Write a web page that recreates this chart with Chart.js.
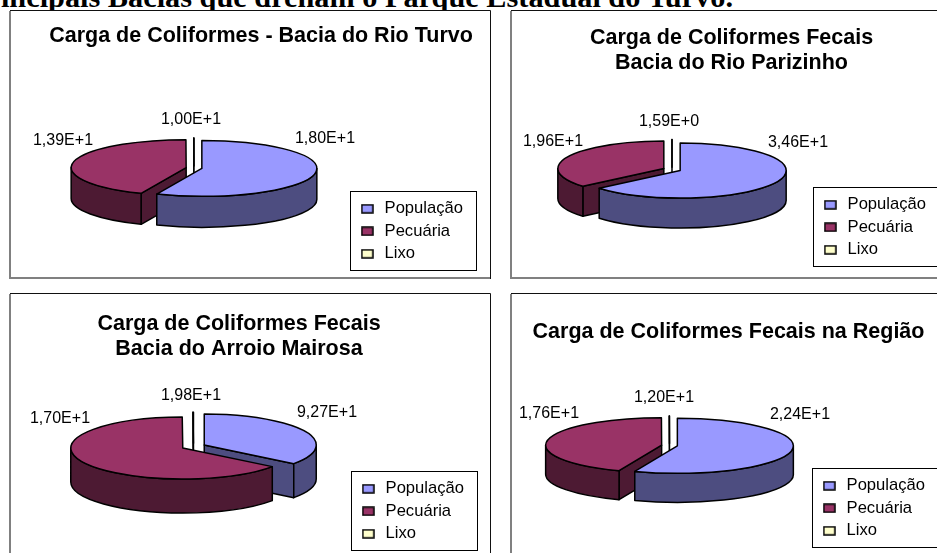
<!DOCTYPE html>
<html lang="pt-BR">
<head>
<meta charset="utf-8">
<title>Carga de Coliformes</title>
<script src="https://cdn.jsdelivr.net/npm/chart.js@4/dist/chart.umd.min.js"></script>
<style>
    html, body { margin: 0; padding: 0; width: 937px; height: 553px; overflow: hidden; background: #fff; }
    canvas { position: absolute; }
    #cabecalho {
        position: absolute; right: 204px; top: -20px;
        font: bold 30.3px "Liberation Serif", serif; white-space: nowrap; color: #000;
    }
</style>
</head>
<body>
<div id="cabecalho">Principais Bacias que drenam o Parque Estadual do Turvo.</div>
<canvas id="turvo" width="482" height="269" style="left:9px;top:10px"></canvas>
<canvas id="parizinho" width="482" height="269" style="left:510px;top:10px"></canvas>
<canvas id="mairosa" width="482" height="269" style="left:9px;top:293px"></canvas>
<canvas id="regiao" width="482" height="269" style="left:510px;top:293px"></canvas>
<script>
/* -----------------------------
   DADOS
----------------------------- */
const categorias = ["População", "Pecuária", "Lixo"];
const cargaTurvo = [1.80e13, 1.39e13, 1.00e10];
const cargaParizinho = [3.46e13, 1.96e13, 1.59e9];
const cargaMairosa = [9.27e12, 1.70e13, 1.98e10];
const cargaRegiao = [2.24e13, 1.76e13, 1.20e10];

const coresTopo = ["#9999FF", "#993366", "#FFFFCC"];
const coresParede = ["#4D4D80", "#4D1A33", "#808066"];

const paineis = [
    {
        id: "turvo", titulo: "Carga de Coliformes - Bacia do Rio Turvo", valores: cargaTurvo,
        padding: { left: 40, right: 18, top: 14, bottom: 11 },
        pizza: { x: 185, y: 158, raio: 115, achatar: 0.243, altura: 31, explosao: 8 },
        rotulos: [[131, -29], [-131, -27], [-3, -48]]
    },
    {
        id: "parizinho", titulo: ["Carga de Coliformes Fecais", "Bacia do Rio Parizinho"], valores: cargaParizinho,
        padding: { left: 17, right: 56, top: 16, bottom: 15 },
        pizza: { x: 162, y: 159.5, raio: 106, achatar: 0.26, altura: 30, explosao: 9 },
        rotulos: [[126, -26.5], [-119, -27.5], [-3, -47.5]]
    },
    {
        id: "mairosa", titulo: ["Carga de Coliformes Fecais", "Bacia do Arroio Mairosa"], valores: cargaMairosa,
        padding: { left: -5, right: 17, top: 19, bottom: 14 },
        pizza: { x: 184.5, y: 153.5, raio: 112, achatar: 0.277, altura: 34, explosao: 12 },
        rotulos: [[133.5, -33.5], [-133.5, -27.5], [-2.5, -50.5]]
    },
    {
        id: "regiao", titulo: "Carga de Coliformes Fecais na Região", valores: cargaRegiao,
        padding: { left: 12, right: 57, top: 27, bottom: 17 },
        pizza: { x: 159.5, y: 152.5, raio: 116, achatar: 0.237, altura: 29, explosao: 8 },
        rotulos: [[130.5, -30.5], [-120.5, -31.5], [-5.5, -47.5]]
    }
];

const fonte = "Liberation Sans";

// O rotulo so tem lugar para 7 caracteres, o expoente perde o ultimo digito
function rotuloCarga(valor) {
    const [mantissa, expoente] = valor.toExponential(2).split("e");
    const exp = expoente.replace("+", "").padStart(2, "0");
    return `${mantissa.replace(".", ",")}E+${exp}`.slice(0, 7);
}

function amostraLegenda(cor) {
    const c = document.createElement("canvas");
    c.width = 13;
    c.height = 10;
    const g = c.getContext("2d");
    g.fillStyle = cor;
    g.fillRect(1, 1, 11, 8);
    g.strokeStyle = "#000";
    g.lineWidth = 1.5;
    g.strokeRect(1, 1, 11, 8);
    return c;
}

/* -----------------------------
   PIZZA 3D
   Os angulos vem dos arcos calculados pelo controller
----------------------------- */
function desenharFatia(ctx, arc, i, pizza) {
    const rx = arc.outerRadius;
    const ry = rx * pizza.achatar;
    const meio = (arc.startAngle + arc.endAngle) / 2;
    const ox = pizza.x + Math.cos(meio) * arc.options.offset;
    const oy = pizza.y + Math.sin(meio) * arc.options.offset * pizza.achatar;
    const h = pizza.altura;

    ctx.lineWidth = arc.options.borderWidth;
    ctx.strokeStyle = arc.options.borderColor;
    ctx.lineJoin = "round";

    const pintar = (cor) => {
        ctx.fillStyle = cor;
        ctx.fill();
        ctx.stroke();
    };

    // paredes do corte, so as que olham para a frente
    const cortes = [];
    if (Math.cos(arc.startAngle) < 0) cortes.push(arc.startAngle);
    if (Math.cos(arc.endAngle) > 0) cortes.push(arc.endAngle);
    cortes.forEach(ang => {
        const px = ox + rx * Math.cos(ang);
        const py = oy + ry * Math.sin(ang);
        ctx.beginPath();
        ctx.moveTo(ox, oy);
        ctx.lineTo(px, py);
        ctx.lineTo(px, py + h);
        ctx.lineTo(ox, oy + h);
        ctx.closePath();
        pintar(coresParede[i]);
    });

    // parede externa, entre 0 e PI fica a parte da frente
    const a0 = Math.max(arc.startAngle, 0);
    const a1 = Math.min(arc.endAngle, Math.PI);
    if (a1 > a0) {
        ctx.beginPath();
        ctx.ellipse(ox, oy, rx, ry, 0, a0, a1);
        ctx.ellipse(ox, oy + h, rx, ry, 0, a1, a0, true);
        ctx.closePath();
        pintar(coresParede[i]);
    }

    // topo
    ctx.beginPath();
    ctx.moveTo(ox, oy);
    ctx.ellipse(ox, oy, rx, ry, 0, arc.startAngle, arc.endAngle);
    ctx.closePath();
    pintar(arc.options.backgroundColor);
}

const pluginPizza = {
    id: "pizza3d",
    beforeDraw(chart) {
        const { ctx, width, height } = chart;
        // moldura do painel
        ctx.save();
        ctx.fillStyle = "#fff";
        ctx.fillRect(0, 0, width, height);
        ctx.strokeStyle = "#808080";
        ctx.lineWidth = 2;
        ctx.beginPath();
        ctx.moveTo(1, 1);
        ctx.lineTo(1, height - 1);
        ctx.lineTo(width, height - 1);
        ctx.stroke();
        ctx.strokeStyle = "#111";
        ctx.lineWidth = 1;
        ctx.beginPath();
        ctx.moveTo(1, 0.5);
        ctx.lineTo(width - 0.5, 0.5);
        ctx.lineTo(width - 0.5, height);
        ctx.stroke();
        ctx.restore();
    },
    beforeDatasetsDraw(chart, args, opts) {
        const { ctx } = chart;
        const arcos = chart.getDatasetMeta(0).data
            .map((arc, i) => ({ arc, i }))
            .sort((a, b) =>
                Math.sin((a.arc.startAngle + a.arc.endAngle) / 2) -
                Math.sin((b.arc.startAngle + b.arc.endAngle) / 2));
        ctx.save();
        arcos.forEach(({ arc, i }) => desenharFatia(ctx, arc, i, opts.pizza));

        ctx.fillStyle = "#000";
        ctx.font = `16px "${fonte}"`;
        ctx.textAlign = "center";
        ctx.textBaseline = "middle";
        chart.data.datasets[0].data.forEach((valor, i) => {
            const [dx, dy] = opts.rotulos[i];
            ctx.fillText(rotuloCarga(valor), opts.pizza.x + dx, opts.pizza.y + dy);
        });
        ctx.restore();
        return false;
    },
    afterDraw(chart) {
        // caixa da legenda
        const { ctx, legend } = chart;
        const caixas = legend.legendHitBoxes;
        const topo = caixas[0].top - 10;
        ctx.save();
        ctx.strokeStyle = "#000";
        ctx.lineWidth = 1;
        ctx.strokeRect(Math.round(caixas[0].left - 8) + 0.5, Math.round(topo) + 0.5, 126, 79);
        ctx.restore();
    }
};

/* -----------------------------
   GRAFICOS
----------------------------- */
const amostras = coresTopo.map(amostraLegenda);

paineis.forEach(painel => {
    new Chart(document.getElementById(painel.id), {
        type: "pie",
        data: {
            labels: categorias,
            datasets: [{
                data: painel.valores,
                backgroundColor: coresTopo,
                borderColor: "#000",
                borderWidth: 1.5,
                offset: painel.pizza.explosao,
                radius: painel.pizza.raio
            }]
        },
        options: {
            responsive: false,
            animation: false,
            layout: { padding: painel.padding },
            plugins: {
                title: {
                    display: true,
                    text: painel.titulo,
                    color: "#000",
                    padding: 0,
                    font: { family: fonte, size: 21.5, weight: "bold", lineHeight: 1.16 }
                },
                legend: {
                    position: "right",
                    align: "end",
                    labels: {
                        color: "#000",
                        font: { family: fonte, size: 16.6 },
                        padding: 5.9,
                        usePointStyle: true,
                        pointStyleWidth: 18,
                        generateLabels: () => categorias.map((text, i) => ({
                            text,
                            index: i,
                            pointStyle: amostras[i],
                            fontColor: "#000",
                            lineWidth: 0,
                            hidden: false
                        }))
                    }
                },
                tooltip: { enabled: false },
                pizza3d: { pizza: painel.pizza, rotulos: painel.rotulos }
            }
        },
        plugins: [pluginPizza]
    });
});
</script>
</body>
</html>
